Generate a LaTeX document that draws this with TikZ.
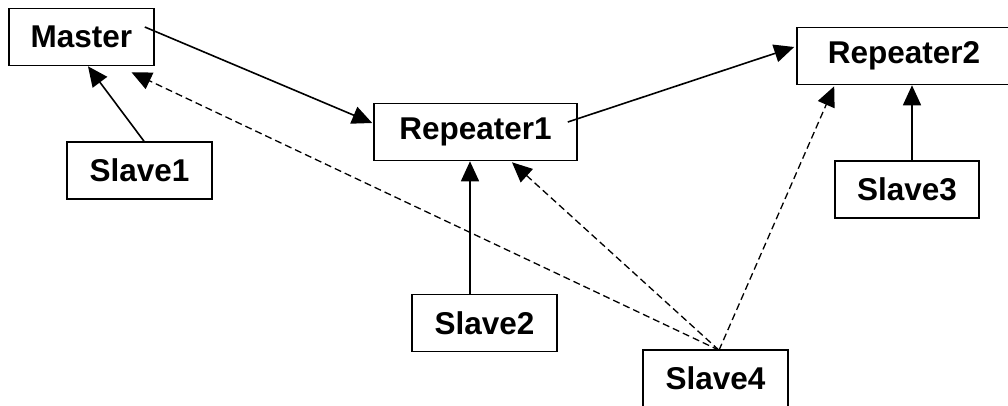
\documentclass[tikz,border=0pt]{standalone}
\usepackage{fontspec}
\setmainfont{Liberation Sans}
\usetikzlibrary{arrows.meta,calc}
\begin{document}
\begin{tikzpicture}[x=1pt,y=-1pt,
  box/.style={draw,line width=1.6pt,inner sep=0pt,minimum height=57pt,
    font=\fontsize{31.5}{37}\selectfont\bfseries},
  conn/.style={line width=1.6pt,-{Triangle[length=20pt,width=18pt]}},
  dconn/.style={line width=1.3pt,dash pattern=on 7pt off 4pt,-{Triangle[length=20pt,width=18pt]}}]
\useasboundingbox (0,0) rectangle (1008,406);
\fill[white] (0,0) rectangle (1008,406);
\node[box,minimum width=145pt] (master) at (81.5,37) {Master};
\node[box,minimum width=145pt] (s1) at (139.5,170.5) {Slave1};
\node[box,minimum width=203pt] (r1) at (475.5,132) {Repeater1};
\node[box,minimum width=214pt] (r2) at (904,56) {Repeater2};
\node[box,minimum width=145pt] (s2) at (484.5,323) {Slave2};
\node[box,minimum width=144pt] (s3) at (907,189.5) {Slave3};
\node[box,minimum width=145pt] (s4) at (715.5,378.5) {Slave4};
% end points
\coordinate (mOut) at ($(master.east)+(-10,-10)$);
\coordinate (r1In) at ($(r1.west)+(-1,-9)$);
\coordinate (r1Out) at ($(r1.east)+(-10,-10)$);
\coordinate (r2In) at ($(r2.west)+(-2,-9)$);
\coordinate (s1Out) at ($(s1.north)+(4.5,0)$);
\coordinate (mIn1) at ($(master.south)+(6.5,0)$);
\coordinate (mIn2) at ($(master.south)+(50,6)$);
\coordinate (s4Out) at ($(s4.north)+(3.5,1)$);
\coordinate (r1In2) at ($(r1.south)+(36.5,1)$);
\coordinate (r2In2) at ($(r2.south west)+(38,1)$);
\coordinate (s2Out) at ($(s2.north)+(-14.5,0)$);
\coordinate (r1In3) at ($(r1.south)+(-5.5,0)$);
\coordinate (s3Out) at ($(s3.north)+(5,0)$);
\coordinate (r2In3) at ($(r2.south)+(8,0)$);
% connectors
\draw[conn] (mOut) -- (r1In);
\draw[conn] (r1Out) -- (r2In);
\draw[conn] (s1Out) -- (mIn1);
\draw[conn] (s2Out) -- (r1In3);
\draw[conn] (s3Out) -- (r2In3);
\draw[dconn] (s4Out) -- (mIn2);
\draw[dconn] (s4Out) -- (r1In2);
\draw[dconn] (s4Out) -- (r2In2);
\end{tikzpicture}
\end{document}
